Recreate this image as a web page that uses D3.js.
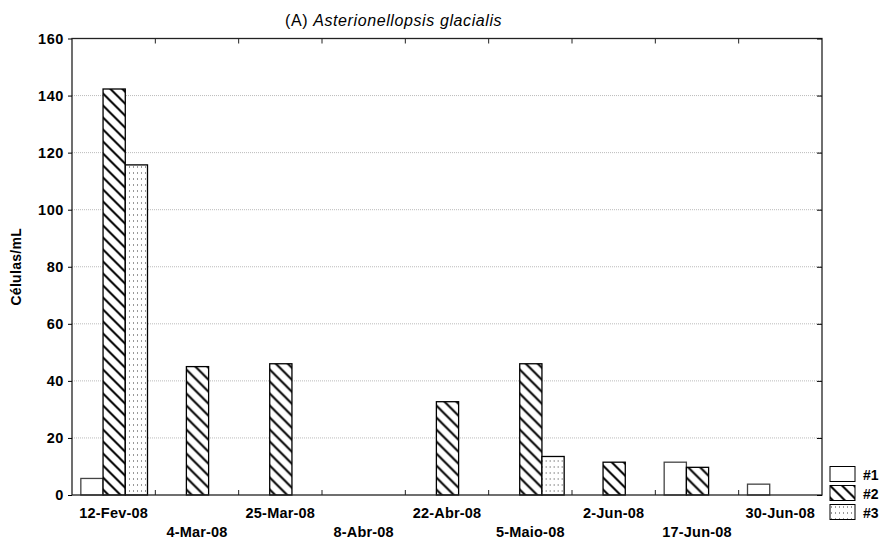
<!DOCTYPE html>
<html>
<head>
<meta charset="utf-8">
<script src="https://cdn.jsdelivr.net/npm/d3@7"></script>
<style>
  body { margin: 0; background: #fff; }
  svg { display: block; font-family: "Liberation Sans", Arial, sans-serif; }
</style>
</head>
<body>
<svg id="chart" width="883" height="540"></svg>
<script>
// Sampling dates and cell counts per station
const dates = ["12-Fev-08", "4-Mar-08", "25-Mar-08", "8-Abr-08", "22-Abr-08", "5-Maio-08", "2-Jun-08", "17-Jun-08", "30-Jun-08"];
const seriesNames = ["#1", "#2", "#3"];
const station1 = [5.8, 0, 0, 0, 0, 0, 0, 11.5, 3.8];
const station2 = [142.3, 45, 46, 0, 32.7, 46, 11.5, 9.7, 0];
const station3 = [115.7, 0, 0, 0, 0, 13.5, 0, 0, 0];
const yTicks = [0, 20, 40, 60, 80, 100, 120, 140, 160];

const values = [station1, station2, station3];
const rows = dates.map((d, i) => ({ date: d, vals: seriesNames.map((s, k) => ({ key: s, v: values[k][i] })) }));

const svg = d3.select("#chart");
const m = { left: 72, top: 38.5, right: 61, bottom: 45 };
const W = 883, H = 540;
const iw = W - m.left - m.right, ih = H - m.top - m.bottom;

// Fill patterns: plain, back-diagonal hatch, dots
const defs = svg.append("defs");
const hatch = defs.append("pattern").attr("id", "hatch").attr("patternUnits", "userSpaceOnUse")
  .attr("width", 12).attr("height", 12);
hatch.append("rect").attr("width", 12).attr("height", 12).attr("fill", "#fff");
hatch.append("path").attr("d", "M-3,-3 L15,15 M-3,9 L3,15 M9,-3 L15,3")
  .attr("stroke", "#000").attr("stroke-width", 2);
const dots = defs.append("pattern").attr("id", "dots").attr("patternUnits", "userSpaceOnUse")
  .attr("width", 4).attr("height", 6);
dots.append("rect").attr("width", 4).attr("height", 6).attr("fill", "#fff");
dots.append("rect").attr("x", 1).attr("y", 2).attr("width", 1).attr("height", 1).attr("fill", "#333");
const fills = { "#1": "#fff", "#2": "url(#hatch)", "#3": "url(#dots)" };

const x0 = d3.scaleBand().domain(dates).range([0, iw]).paddingInner(0).paddingOuter(0);
const x1 = d3.scaleBand().domain(seriesNames).range([x0.bandwidth() * 0.1, x0.bandwidth() * 0.9]);
const y = d3.scaleLinear().domain([0, 160]).range([ih, 0]);

const g = svg.append("g").attr("transform", `translate(${m.left},${m.top})`);

// Gridlines
g.append("g").selectAll("line").data(yTicks.filter(t => t > 0 && t < 160)).join("line")
  .attr("x1", 0).attr("x2", iw).attr("y1", d => y(d)).attr("y2", d => y(d))
  .attr("stroke", "#bbb").attr("stroke-width", 1).attr("stroke-dasharray", "1,1");

// Bars
const grp = g.append("g").selectAll("g").data(rows).join("g")
  .attr("transform", d => `translate(${x0(d.date)},0)`);
grp.selectAll("rect").data(d => d.vals).join("rect")
  .attr("x", d => x1(d.key) + 0.5)
  .attr("width", x1.bandwidth())
  .attr("y", d => y(d.v))
  .attr("height", d => ih - y(d.v))
  .attr("fill", d => fills[d.key])
  .attr("stroke", d => d.key === "#1" ? "#444" : "#000")
  .attr("stroke-width", 1.3);

// Frame
g.append("rect").attr("width", iw).attr("height", ih).attr("fill", "none")
  .attr("stroke", "#222").attr("stroke-width", 1.3);

// Left axis
const yAxis = g.append("g").call(d3.axisLeft(y).tickValues(yTicks).tickSize(4).tickPadding(4));
yAxis.select(".domain").remove();
yAxis.selectAll("text").attr("font-size", 14.5).attr("font-weight", "bold")
  .attr("letter-spacing", 0.6).attr("fill", "#000");
// Right axis (inward ticks)
const yAxisR = g.append("g").attr("transform", `translate(${iw},0)`)
  .call(d3.axisLeft(y).tickValues(yTicks).tickSize(5).tickFormat(""));
yAxisR.select(".domain").remove();

// Category boundary ticks on top and bottom (inward)
const bounds = dates.slice(1).map(d => x0(d));
g.append("g").selectAll("line").data(bounds).join("line")
  .attr("x1", d => d).attr("x2", d => d).attr("y1", 0).attr("y2", 5).attr("stroke", "#222");
g.append("g").selectAll("line").data(bounds).join("line")
  .attr("x1", d => d).attr("x2", d => d).attr("y1", ih).attr("y2", ih - 5).attr("stroke", "#222");

// Staggered date labels
g.append("g").selectAll("text").data(dates).join("text")
  .attr("x", d => x0(d) + x0.bandwidth() / 2)
  .attr("y", (d, i) => ih + (i % 2 === 0 ? 23 : 42))
  .attr("text-anchor", "middle").attr("font-size", 14.5).attr("font-weight", "bold")
  .attr("letter-spacing", 0.2)
  .text(d => d);

// Y axis title
svg.append("text").attr("transform", `translate(21,${m.top + ih / 2}) rotate(-90)`)
  .attr("text-anchor", "middle").attr("font-size", 14).attr("font-weight", "bold")
  .attr("letter-spacing", 0.3)
  .text("Células/mL");

// Chart title
const title = svg.append("text").attr("x", 285).attr("y", 26).attr("font-size", 16)
  .attr("letter-spacing", 0.6);
title.append("tspan").text("(A) ");
title.append("tspan").attr("font-style", "italic").text("Asterionellopsis glacialis");

// Legend
const leg = svg.append("g").attr("transform", "translate(830,466.5)");
const li = leg.selectAll("g").data(seriesNames).join("g")
  .attr("transform", (d, i) => `translate(0,${i * 19})`);
li.append("rect").attr("width", 25).attr("height", 15)
  .attr("fill", d => fills[d]).attr("stroke", "#000").attr("stroke-width", 1);
li.append("text").attr("x", 33).attr("y", 13).attr("font-size", 14).attr("font-weight", "bold")
  .text(d => d);
</script>
</body>
</html>
